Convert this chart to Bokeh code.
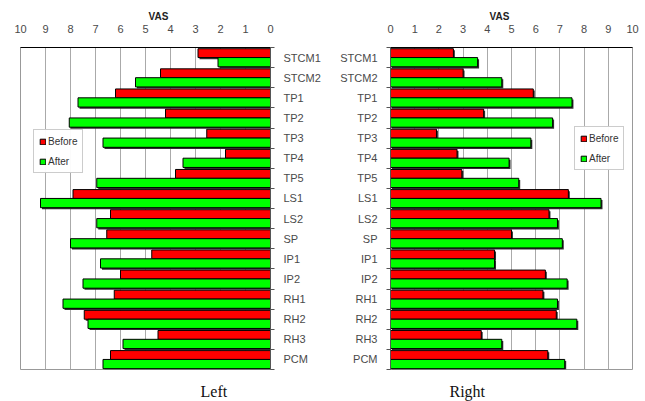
from bokeh.plotting import figure
from bokeh.layouts import row
from bokeh.models import FixedTicker, Range1d, Title, Legend, LegendItem, ColumnDataSource
from bokeh.embed import file_html
from bokeh.resources import INLINE

categories = ["STCM1", "STCM2", "TP1", "TP2", "TP3", "TP4", "TP5", "LS1",
              "LS2", "SP", "IP1", "IP2", "RH1", "RH2", "RH3", "PCM"]
left_before = [2.9, 4.4, 6.2, 4.2, 2.55, 1.8, 3.8, 7.9, 6.4, 6.55, 4.75, 6.0, 6.25, 7.45, 4.5, 6.4]
left_after = [2.1, 5.4, 7.7, 8.05, 6.7, 3.5, 6.95, 9.2, 6.95, 8.0, 6.8, 7.5, 8.3, 7.3, 5.9, 6.7]
right_before = [2.6, 3.0, 5.9, 3.85, 1.9, 2.75, 2.95, 7.35, 6.55, 5.0, 4.3, 6.4, 6.3, 6.85, 3.75, 6.5]
right_after = [3.6, 4.6, 7.5, 6.7, 5.8, 4.9, 5.3, 8.7, 6.9, 7.1, 4.3, 7.3, 6.9, 7.7, 4.6, 7.2]
x_ticks = [0, 1, 2, 3, 4, 5, 6, 7, 8, 9, 10]
series_names = ["Before", "After"]
panel_names = ["Left", "Right"]

FONT = "Liberation Sans"
RED = "#ff0000"
GREEN = "#00ff00"
n = len(categories)
centers = [n - 1 - i for i in range(n)]


def make_panel(before, after, side):
    is_left = side == "left"
    xr = Range1d(10, 0) if is_left else Range1d(0, 10)
    p = figure(
        output_backend="svg", toolbar_location=None,
        frame_width=250 if is_left else 242, frame_height=322,
        x_range=xr, y_range=Range1d(-0.5, n - 0.5),
        x_axis_location="above",
        y_axis_location="right" if is_left else "left",
        min_border_left=20 if is_left else 67,
        min_border_right=52 if is_left else 12,
        min_border_top=47, min_border_bottom=32,
        background_fill_color="white", border_fill_color="white",
        outline_line_color="#999999", outline_line_width=1,
    )
    sx = -0.06 if is_left else 0.06
    src = ColumnDataSource(dict(
        yb=[c + 0.22 for c in centers], ya=[c - 0.23 for c in centers],
        ybs=[c + 0.22 - 0.08 for c in centers], yas=[c - 0.23 - 0.08 for c in centers],
        before=before, after=after,
        bs=[v + sx for v in before], as_=[v + sx for v in after],
        zero=[0] * n, zs=[sx] * n,
    ))
    p.hbar(y="ybs", left="zs", right="bs", height=0.44, source=src,
           fill_color="#303030", line_color=None)
    rb = p.hbar(y="yb", left="zero", right="before", height=0.44, source=src,
                fill_color=RED, line_color="black", line_width=1)
    p.hbar(y="yas", left="zs", right="as_", height=0.46, source=src,
           fill_color="#303030", line_color=None)
    ra = p.hbar(y="ya", left="zero", right="after", height=0.46, source=src,
                fill_color=GREEN, line_color="black", line_width=1)

    # x axis (top)
    xa = p.xaxis[0]
    xa.ticker = FixedTicker(ticks=x_ticks)
    xa.major_tick_out = 0
    xa.major_tick_in = 0
    xa.minor_tick_out = 0
    xa.axis_line_color = "black"
    xa.major_label_standoff = 15
    xa.major_label_text_font = FONT
    xa.major_label_text_font_size = "11px"
    xa.major_label_text_color = "#4a4a4a"

    # y axis (categories)
    ya = p.yaxis[0]
    ya.ticker = FixedTicker(ticks=centers, minor_ticks=[c + 0.5 for c in range(-1, n)])
    ya.major_label_overrides = {c: categories[i] for i, c in enumerate(centers)}
    ya.major_tick_out = 0
    ya.major_tick_in = 0
    ya.minor_tick_out = 4
    ya.minor_tick_in = 0
    ya.minor_tick_line_color = "#555555"
    ya.axis_line_color = "#555555"
    ya.major_label_standoff = 9
    ya.major_label_text_font = FONT
    ya.major_label_text_font_size = "11px"
    ya.major_label_text_color = "#4a4a4a"

    p.xgrid.ticker = FixedTicker(ticks=x_ticks)
    p.xgrid.grid_line_color = "#aaaaaa"
    p.ygrid.grid_line_color = None

    legend = Legend(
        items=[LegendItem(label=series_names[0], renderers=[rb]),
               LegendItem(label=series_names[1], renderers=[ra])],
        location=(13, 196) if is_left else (184, 199),
        border_line_color="#999999", background_fill_color="white",
        label_text_font=FONT, label_text_font_size="10px", label_text_color="#333333",
        glyph_width=7, glyph_height=7, label_height=12, spacing=8, padding=5,
        label_standoff=2, margin=0,
    )
    p.add_layout(legend, "center")

    p.add_layout(Title(text="VAS", align="left", offset=128 if is_left else 99,
                       text_font=FONT, text_font_size="10px", text_font_style="bold",
                       text_color="#222222", standoff=0), "above")
    p.add_layout(Title(text=panel_names[0] if is_left else panel_names[1], align="left",
                       offset=180 if is_left else 59,
                       text_font="Liberation Serif", text_font_size="16px",
                       text_font_style="normal", text_color="#111111", standoff=22), "below")
    return p


pl = make_panel(left_before, left_after, "left")
pr = make_panel(right_before, right_after, "right")
layout = row(pl, pr)

open("out.html", "w").write(file_html(layout, INLINE))
